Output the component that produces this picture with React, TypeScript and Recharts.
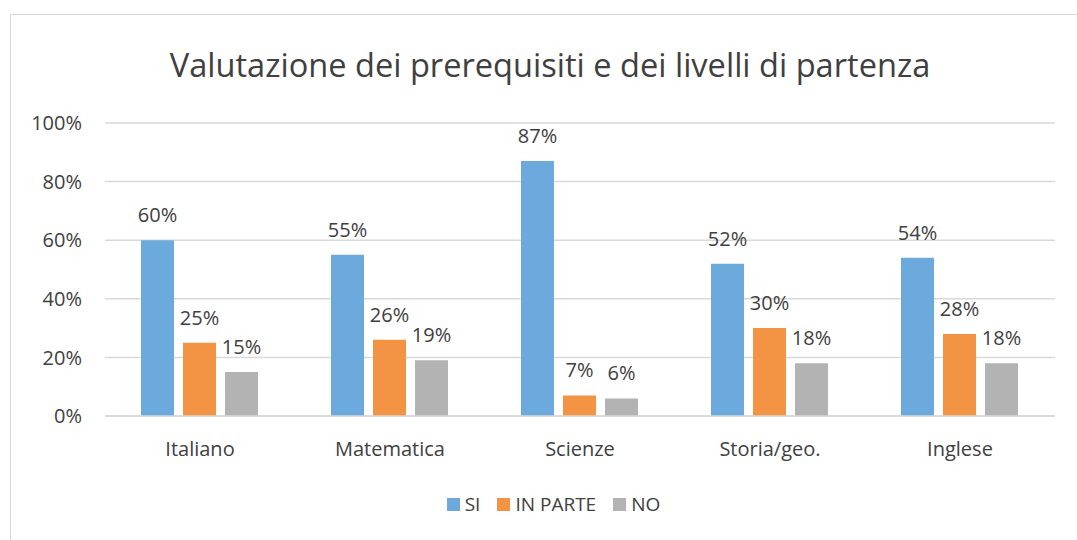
import React from 'react';
import { BarChart, Bar, XAxis, YAxis, CartesianGrid, LabelList } from 'recharts';

const categories = ['Italiano', 'Matematica', 'Scienze', 'Storia/geo.', 'Inglese'];
const siValues = [60, 55, 87, 52, 54];
const inParteValues = [25, 26, 7, 30, 28];
const noValues = [15, 19, 6, 18, 18];
const yTicks = [0, 20, 40, 60, 80, 100];
const seriesNames = ['SI', 'IN PARTE', 'NO'];
const seriesKeys = ['si', 'inParte', 'no'];
const seriesColors = ['#6CAADD', '#F29443', '#B3B3B3'];
const title = 'Valutazione dei prerequisiti e dei livelli di partenza';

const data = categories.map((c, i) => ({
  name: c,
  si: siValues[i],
  inParte: inParteValues[i],
  no: noValues[i],
}));

const FONT = '"Open Sans", sans-serif';
const TEXT = '#404040';

export default function App() {
  return (
    <div style={{ position: 'absolute', left: 0, top: 0, width: 1077, height: 540, background: '#fff', overflow: 'hidden', fontFamily: FONT }}>
      <div style={{ position: 'absolute', left: 10, top: 14, width: 1200, height: 700, border: '1px solid #d9d9d9', boxSizing: 'border-box' }} />
      <svg style={{ position: 'absolute', left: 0, top: 0 }} width={1077} height={100}>
        <text x={550} y={77} textAnchor="middle" fontFamily={FONT} fontSize={32.6} fill={TEXT}>{title}</text>
      </svg>
      <div style={{ position: 'absolute', left: 0, top: 0 }}>
        <BarChart
          width={1077}
          height={540}
          data={data}
          margin={{ top: 123, right: 22, bottom: 84, left: 0 }}
          barGap={9}
          barCategoryGap={36}
        >
          <CartesianGrid vertical={false} stroke="#d9d9d9" strokeWidth={1.5} />
          <XAxis
            dataKey="name"
            height={40}
            tickLine={false}
            tickSize={0}
            tickMargin={26}
            axisLine={{ stroke: '#d9d9d9', strokeWidth: 1.5 }}
            tick={{ fill: TEXT, fontSize: 20, fontFamily: FONT }}
          />
          <YAxis
            width={105}
            domain={[0, 100]}
            ticks={yTicks}
            tickFormatter={(v: number) => `${v}%`}
            tickLine={false}
            axisLine={false}
            tickSize={0}
            tickMargin={23}
            tick={{ fill: TEXT, fontSize: 20, fontFamily: FONT }}
          />
          {seriesKeys.map((k, i) => (
            <Bar key={k} dataKey={k} name={seriesNames[i]} fill={seriesColors[i]} isAnimationActive={false}>
              <LabelList
                dataKey={k}
                position="top"
                offset={18}
                formatter={(v: number) => `${v}%`}
                style={{ fill: TEXT, fontSize: 20, fontFamily: FONT }}
              />
            </Bar>
          ))}
        </BarChart>
      </div>
      <div style={{ position: 'absolute', left: 0, width: 1107, top: 494, display: 'flex', justifyContent: 'center', gap: 17, alignItems: 'center' }}>
        {seriesNames.map((n, i) => (
          <div key={n} style={{ display: 'flex', alignItems: 'center', gap: 5 }}>
            <div style={{ width: 13, height: 13, background: seriesColors[i] }} />
            <span style={{ fontSize: 19, color: TEXT, lineHeight: '20px' }}>{n}</span>
          </div>
        ))}
      </div>
    </div>
  );
}
